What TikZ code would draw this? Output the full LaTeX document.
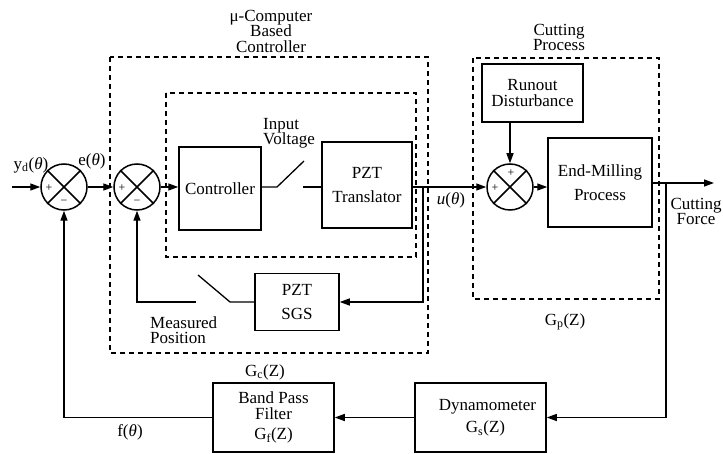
\documentclass[tikz,border=0pt]{standalone}
\usepackage{fontspec}
\setmainfont{Liberation Serif}
\usetikzlibrary{arrows.meta,calc}
\begin{document}
\begin{tikzpicture}[x=1pt,y=-1pt,
  blk/.style={draw, line width=1.5pt, inner sep=0pt, align=center, font=\fontsize{17}{15.5}\selectfont},
  sumj/.style={draw, circle, line width=1.5pt, minimum size=46pt, inner sep=0pt},
  frame/.style={draw, dash pattern=on 5pt off 4pt, line width=1.4pt},
  conn/.style={line width=1.3pt},
  arr/.style={conn, -{Triangle[length=10pt,width=7pt]}},
  lbl/.style={font=\fontsize{17}{15.5}\selectfont, inner sep=0pt, align=center},
  sgn/.style={font=\fontsize{12}{12}\selectfont, inner sep=0pt}]
\useasboundingbox (0,0) rectangle (723,454);

% dashed frames
\draw[frame] (110,57) rectangle (428,353);
\draw[frame] (166,93) rectangle (416,257);
\draw[frame] (473,58) rectangle (659,299);

% summing junctions
\node[sumj] (s1) at (64,187) {};
\node[sumj] (s2) at (137,187) {};
\node[sumj] (s3) at (510,187) {};
\foreach \s in {s1,s2,s3}{
  \draw[line width=1.5pt] (\s.north west) -- (\s.south east);
  \draw[line width=1.5pt] (\s.north east) -- (\s.south west);
}
\node[sgn] at ($(s1)+(-15,1)$) {+};
\node[sgn] at ($(s1)+(0,15)$) {−};
\node[sgn] at ($(s2)+(-15,1)$) {+};
\node[sgn] at ($(s2)+(0,15)$) {−};
\node[sgn] at ($(s3)+(1,-14)$) {+};
\node[sgn] at ($(s3)+(-15,1)$) {+};

% blocks
\node[blk, minimum width=82pt, minimum height=83pt] (ctrl) at (220,188.5) {Controller};
\node[blk, minimum width=90pt, minimum height=86pt] (pztt) at (367,185) {PZT\\[8pt]Translator};
\node[blk, minimum width=84pt, minimum height=57pt] (sgs) at (297,302) {PZT\\[9pt]SGS};
\node[blk, minimum width=101pt, minimum height=58pt] (runout) at (532.5,93) {Runout\\Disturbance};
\node[blk, minimum width=104pt, minimum height=89pt] (em) at (600,182.5) {End-Milling\\[8pt]Process};
\node[blk, minimum width=121pt, minimum height=69pt] (bpf) at (273.5,417.5) {Band Pass\\Filter\\[5pt]G\textsubscript{f}(Z)};
\node[blk, minimum width=131pt, minimum height=69pt] (dyn) at (480.5,417.5) {\hspace*{14pt}Dynamometer\\[7pt]\hspace*{10pt}G\textsubscript{s}(Z)};

% switch points and free ends
\coordinate (in) at (12,187);
\coordinate (sw1a) at (277,187);
\coordinate (sw1b) at (304,161);
\coordinate (sw1c) at (303,187);
\coordinate (fb1) at (423,187);
\coordinate (sw2a) at (230,302);
\coordinate (sw2b) at (198,275);
\coordinate (sw2c) at (196,302);
\coordinate (out) at (714,183);
\coordinate (fb2) at (666,183);

% connectors
\draw[arr] (in) -- (s1.west);
\draw[arr] (s1.east) -- (s2.west);
\draw[arr] (s2.east) -- (s2.east -| ctrl.west);
\draw[conn] (ctrl.east |- sw1a) -- (sw1a) -- (sw1b);
\draw[conn] (sw1c) -- (sw1c -| pztt.west);
\draw[arr] (s3 -| pztt.east) -- (s3.west);
\draw[arr] (fb1) |- (sgs.east);
\draw[conn] (sgs.west) -- (sw2a) -- (sw2b);
\draw[arr] (sw2c) -| (s2.south);
\draw[arr] (s3 |- runout.south) -- (s3.north);
\draw[arr] (s3.east) -- (s3.east -| em.west);
\draw[arr] (em.east |- out) -- (out);
\draw[arr] (fb2) |- (dyn.east);
\draw[arr] (dyn.west) -- (bpf.east);
\draw[arr] (bpf.west) -| (s1.south);

% labels
\node[lbl] (lmu) at (271,31) {μ-Computer\\Based\\Controller};
\node[lbl] (lcp) at (559,37.5) {Cutting\\Process};
\node[lbl, align=left, anchor=west] (liv) at (263,133.5) {Input\\Voltage};
\node[lbl, align=left, anchor=west] (lmp) at (150,330) {Measured\\Position};
\node[lbl] (lcf) at (696,211.5) {Cutting\\Force};
\node[lbl] (lu) at (451,200) {\textit{u}(\textit{θ})};
\node[lbl] (le) at (92,161) {e(\textit{θ})};
\node[lbl] (ly) at (31,165) {y\textsubscript{d}(\textit{θ})};
\node[lbl] (lf) at (130,432) {f(\textit{θ})};
\node[lbl] (lgc) at (265,372) {G\textsubscript{c}(Z)};
\node[lbl] (lgp) at (565,322) {G\textsubscript{p}(Z)};
\end{tikzpicture}
\end{document}
